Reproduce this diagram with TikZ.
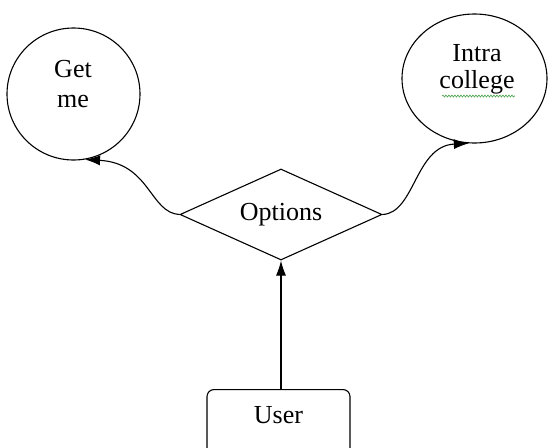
\documentclass[tikz,border=0pt]{standalone}
\usepackage{fontspec}
\setmainfont{Liberation Serif}
\usetikzlibrary{shapes.geometric,arrows.meta,decorations.pathmorphing}
\definecolor{squiggle}{RGB}{70,160,70}
\begin{document}
\begin{tikzpicture}[x=1pt,y=-1pt, line width=1.1pt,
  txt/.style={font=\fontsize{26}{29.6}\selectfont, align=center, inner sep=0pt},
  ring/.style={draw, ellipse, inner sep=0pt},
  tip/.style={-{Latex[length=15pt,width=10pt]}}]
\useasboundingbox (0,0) rectangle (550,448);
\clip (0,0) rectangle (550,448);
\fill[white] (0,0) rectangle (550,448);
\node[ring, minimum width=133pt, minimum height=132pt] (getme) at (73.5,94) {};
\node[txt] (getmetxt) at (73,84) {Get\\me};
\node[ring, minimum width=145pt, minimum height=129pt] (intra) at (474.5,78.5) {};
\node[txt, font=\fontsize{26}{26.6}\selectfont] (intratxt) at (477,69.3) {Intra\\college};
\node[draw, diamond, aspect=2.2, minimum width=202pt, minimum height=91pt, inner sep=0pt,
  font=\fontsize{26}{29}\selectfont] (opt) at (281,214.5) {Options};
\node[draw, rounded corners=7pt, anchor=north, minimum width=143pt, inner xsep=0pt, inner ysep=0pt,
  text height=34pt, text depth=60pt, font=\fontsize{26}{29}\selectfont] (user) at (278.5,389) {User};
\draw[tip] (opt.south |- user.north) -- (opt.south);
\draw[tip] (opt.west) .. controls (150,213) and (150,163) .. (getme.-80);
\draw[tip] (opt.east) .. controls (415,213) and (415,146) .. (intra.-95);
\draw[squiggle, line width=0.6pt, decorate, decoration={snake, amplitude=1pt, segment length=3pt}] (442,96) -- (515,96);
\end{tikzpicture}
\end{document}
